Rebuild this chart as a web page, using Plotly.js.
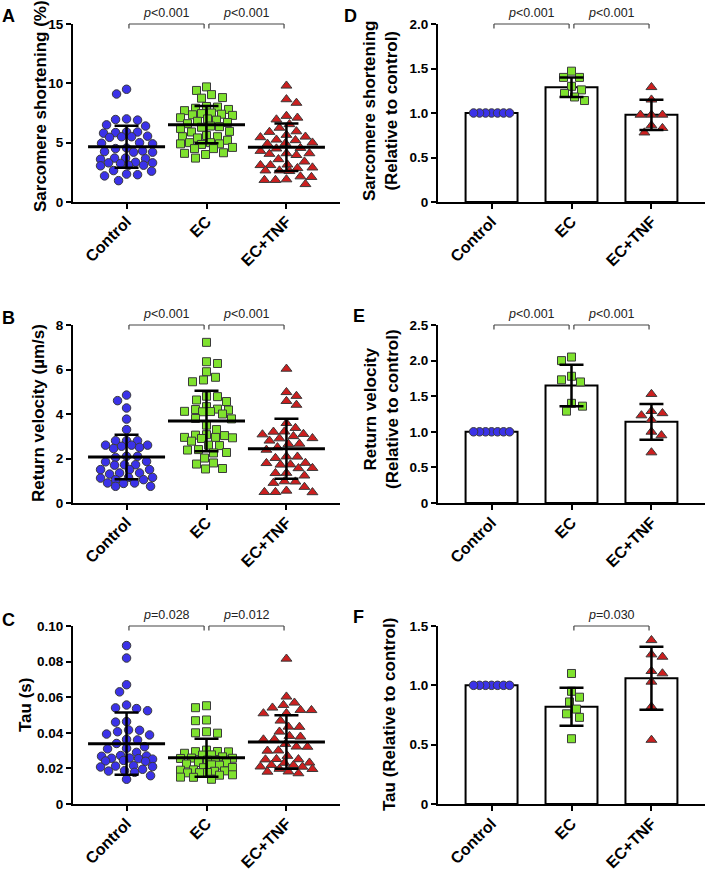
<!DOCTYPE html>
<html>
<head>
<meta charset="utf-8">
<script src="https://cdn.plot.ly/plotly-3.0.1.min.js"></script>
<style>
  body { margin: 0; background: #fff; }
  #fig { width: 707px; height: 872px; }
</style>
</head>
<body>
<div id="fig"></div>
<script>
var groups = ['Control', 'EC', 'EC+TNF'];

// A: sarcomere shortening (%)
var shortCtl = [9.5, 9.1, 7.0, 6.9, 6.95, 6.5, 6.4, 5.9, 5.85, 5.8, 5.9, 5.5, 5.55, 5.45, 5.5, 5.0, 4.95, 4.9, 4.5, 4.55, 4.25, 4.2, 4.3, 4.2, 3.7, 3.65, 3.7, 3.6, 3.3, 3.35, 3.25, 3.3, 3.1, 3.05, 3.1, 2.65, 2.6, 2.35, 2.3, 2.2, 1.8];
var shortEC = [9.7, 9.4, 9.05, 8.8, 8.75, 8.0, 7.9, 7.8, 8.05, 7.7, 7.4, 7.5, 7.3, 7.45, 7.35, 7.0, 6.9, 6.8, 7.1, 6.6, 6.7, 6.4, 6.3, 6.35, 6.2, 5.9, 5.95, 5.6, 5.5, 5.4, 5.5, 5.2, 5.0, 4.9, 4.85, 5.0, 4.9, 4.6, 4.5, 4.5, 4.15, 4.1, 4.0, 3.7];
var shortTNF = [9.8, 8.65, 8.35, 7.25, 7.1, 6.95, 6.55, 6.25, 5.95, 5.9, 5.65, 5.5, 5.45, 5.2, 5.25, 4.95, 4.9, 5.0, 4.5, 4.55, 4.3, 4.1, 4.1, 4.05, 3.95, 3.6, 3.4, 3.1, 3.15, 3.1, 2.9, 2.85, 2.65, 2.6, 2.65, 2.15, 2.1, 1.85, 1.85, 1.9, 1.5];
var shortMean = [4.66, 6.52, 4.62];
var shortSD = [1.77, 1.57, 2.0];

// B: return velocity (µm/s)
var velCtl = [4.85, 4.6, 4.27, 3.77, 3.3, 2.8, 2.8, 2.8, 2.6, 2.6, 2.6, 2.55, 2.45, 2.5, 2.1, 2.1, 2.05, 1.87, 1.85, 1.72, 1.72, 1.7, 1.5, 1.5, 1.5, 1.35, 1.35, 1.3, 1.15, 1.15, 1.12, 1.05, 1.05, 0.9, 0.9, 0.88, 0.75, 0.75];
var velEC = [7.22, 6.35, 6.27, 5.9, 5.53, 5.45, 5.65, 4.78, 4.8, 4.63, 4.56, 4.33, 4.2, 4.22, 4.18, 4.11, 4.1, 4.12, 4.0, 3.8, 3.78, 3.5, 3.3, 3.05, 3.03, 3.07, 2.95, 2.95, 2.93, 2.9, 2.78, 2.58, 2.6, 2.4, 2.38, 2.25, 2.27, 2.02, 1.8, 1.75, 1.53, 1.55];
var velTNF = [6.03, 4.98, 4.81, 4.58, 4.41, 3.59, 3.37, 3.21, 3.2, 3.1, 3.08, 3.0, 2.91, 2.9, 2.8, 2.66, 2.65, 2.5, 2.39, 2.09, 2.08, 2.02, 1.79, 1.8, 1.72, 1.73, 1.57, 1.56, 1.35, 1.34, 1.23, 0.97, 0.96, 0.9, 0.72, 0.55, 0.49, 0.49, 0.48];
var velMean = [2.07, 3.69, 2.44];
var velSD = [1.0, 1.36, 1.35];

// C: tau (s)
var tauCtl = [0.089, 0.082, 0.067, 0.063, 0.0556, 0.054, 0.0536, 0.0524, 0.0463, 0.046, 0.0416, 0.0414, 0.0406, 0.0393, 0.0388, 0.0363, 0.036, 0.034, 0.0322, 0.0313, 0.031, 0.029, 0.0272, 0.027, 0.0268, 0.0257, 0.0255, 0.0258, 0.0252, 0.0242, 0.024, 0.0245, 0.0215, 0.0213, 0.021, 0.0208, 0.0195, 0.0187, 0.0185, 0.0178, 0.0159, 0.0139];
var tauEC = [0.0552, 0.0541, 0.0472, 0.0468, 0.0398, 0.04, 0.0406, 0.0303, 0.0295, 0.0294, 0.0293, 0.0285, 0.0275, 0.0276, 0.0265, 0.0258, 0.0257, 0.0256, 0.0247, 0.0246, 0.0232, 0.0233, 0.0225, 0.022, 0.0218, 0.0205, 0.0204, 0.0192, 0.019, 0.0186, 0.0184, 0.0177, 0.0176, 0.0175, 0.0164, 0.0162, 0.015, 0.0151, 0.0139];
var tauTNF = [0.0816, 0.0603, 0.0569, 0.0556, 0.0541, 0.0528, 0.0527, 0.0509, 0.051, 0.0468, 0.0434, 0.0433, 0.0406, 0.0382, 0.0378, 0.0363, 0.0362, 0.0337, 0.0322, 0.0321, 0.03, 0.0299, 0.027, 0.0251, 0.025, 0.0252, 0.0232, 0.0231, 0.0219, 0.0218, 0.021, 0.0209, 0.0197, 0.0196, 0.0182, 0.0181, 0.0172];
var tauMean = [0.0339, 0.026, 0.0348];
var tauSD = [0.0175, 0.0107, 0.015];

// D: relative sarcomere shortening
var relShortCtl = [1, 1, 1, 1, 1, 1, 1];
var relShortEC = [1.47, 1.40, 1.40, 1.30, 1.26, 1.22, 1.18, 1.14];
var relShortTNF = [1.29, 1.15, 0.98, 0.98, 0.98, 0.86, 0.83, 0.78];
var relShortMean = [1.0, 1.29, 0.98];
var relShortSD = [0, 0.11, 0.17];

// E: relative return velocity
var relVelCtl = [1, 1, 1, 1, 1, 1, 1];
var relVelEC = [2.05, 2.0, 1.78, 1.73, 1.70, 1.40, 1.36, 1.29];
var relVelTNF = [1.53, 1.29, 1.26, 1.23, 1.17, 1.0, 0.95, 0.71];
var relVelMean = [1.0, 1.65, 1.14];
var relVelSD = [0, 0.29, 0.25];

// F: relative tau
var relTauCtl = [1, 1, 1, 1, 1, 1, 1];
var relTauEC = [1.10, 0.95, 0.90, 0.86, 0.80, 0.76, 0.73, 0.55];
var relTauTNF = [1.38, 1.26, 1.24, 1.12, 1.10, 1.03, 0.82, 0.54];
var relTauMean = [1.0, 0.82, 1.06];
var relTauSD = [0, 0.16, 0.265];

var W = 707, H = 872;
var cols = [[73, 340], [438, 705]];
var rows = [[24, 202], [325, 503], [626, 804]];
var xRange = [-0.67, 2.67];
var FONT = 'Liberation Sans, Arial, sans-serif';

var colors = ['#3b32e8', '#7fe22e', '#cc1f1f'];
var symbols = ['circle', 'square', 'triangle-up'];
var sizes = [8.5, 8, 9.5];

var panels = [
    {letter: 'A', letterXY: [8.5, 16.5], col: 0, row: 0, kind: 'dot',
     pts: [shortCtl, shortEC, shortTNF], mean: shortMean, sd: shortSD,
     ymax: 15, tickvals: [0, 5, 10, 15], ticktext: ['0', '5', '10', '15'],
     title: 'Sarcomere shortening (%)', titleXY: [40, 106], pv: [[0, '&lt;0.001'], [1, '&lt;0.001']]},
    {letter: 'D', letterXY: [350, 15.5], col: 1, row: 0, kind: 'bar',
     pts: [relShortCtl, relShortEC, relShortTNF], mean: relShortMean, sd: relShortSD,
     ymax: 2, tickvals: [0, 0.5, 1, 1.5, 2], ticktext: ['0', '0.5', '1.0', '1.5', '2.0'],
     title: 'Sarcomere shortening<br>(Relative to control)', titleXY: [381, 111], pv: [[0, '&lt;0.001'], [1, '&lt;0.001']]},
    {letter: 'B', letterXY: [8, 317.5], col: 0, row: 1, kind: 'dot',
     pts: [velCtl, velEC, velTNF], mean: velMean, sd: velSD,
     ymax: 8, tickvals: [0, 2, 4, 6, 8], ticktext: ['0', '2', '4', '6', '8'],
     title: 'Return velocity (µm/s)', titleXY: [38, 413], pv: [[0, '&lt;0.001'], [1, '&lt;0.001']]},
    {letter: 'E', letterXY: [359, 316], col: 1, row: 1, kind: 'bar',
     pts: [relVelCtl, relVelEC, relVelTNF], mean: relVelMean, sd: relVelSD,
     ymax: 2.5, tickvals: [0, 0.5, 1, 1.5, 2, 2.5], ticktext: ['0', '0.5', '1.0', '1.5', '2.0', '2.5'],
     title: 'Return velocity<br>(Relative to control)', titleXY: [381, 409], pv: [[0, '&lt;0.001'], [1, '&lt;0.001']]},
    {letter: 'C', letterXY: [8, 620], col: 0, row: 2, kind: 'dot',
     pts: [tauCtl, tauEC, tauTNF], mean: tauMean, sd: tauSD,
     ymax: 0.1, tickvals: [0, 0.02, 0.04, 0.06, 0.08, 0.1], ticktext: ['0', '0.02', '0.04', '0.06', '0.08', '0.10'],
     title: 'Tau (s)', titleXY: [25, 705], pv: [[0, '=0.028'], [1, '=0.012']]},
    {letter: 'F', letterXY: [358, 617], col: 1, row: 2, kind: 'bar',
     pts: [relTauCtl, relTauEC, relTauTNF], mean: relTauMean, sd: relTauSD,
     ymax: 1.5, tickvals: [0, 0.5, 1, 1.5], ticktext: ['0', '0.5', '1.0', '1.5'],
     title: 'Tau (Relative to control)', titleXY: [389, 715], pv: [[1, '=0.030']]}
];

// simple beeswarm: returns horizontal offsets in px
function swarm(vals, yPx, sx, sy, maxOff) {
    var order = vals.map(function (v, i) { return i; });
    order.sort(function (a, b) { return vals[b] - vals[a]; });
    var placed = [];
    var out = new Array(vals.length);
    order.forEach(function (i) {
        var y = vals[i] * yPx;
        var sign = placed.length % 2 ? -1 : 1;
        var best = 0, bestScore = -1, done = false;
        for (var k = 0; k <= maxOff && !done; k++) {
            var cands = k === 0 ? [0] : [sign * k, -sign * k];
            for (var c = 0; c < cands.length; c++) {
                var score = Infinity;
                placed.forEach(function (p) {
                    var dx = (p.x - cands[c]) / sx, dy = (p.y - y) / sy;
                    score = Math.min(score, dx * dx + dy * dy);
                });
                if (score >= 1) { best = cands[c]; done = true; break; }
                if (score > bestScore) { bestScore = score; best = cands[c]; }
            }
        }
        placed.push({x: best, y: y});
        out[i] = best;
    });
    return out;
}

function domX(pos) {
    return (pos - xRange[0]) / (xRange[1] - xRange[0]);
}

var data = [];
var layout = {
    width: W, height: H,
    margin: {l: 0, r: 0, t: 0, b: 0},
    paper_bgcolor: '#fff', plot_bgcolor: '#fff',
    showlegend: false,
    font: {family: FONT, color: '#000'},
    shapes: [], annotations: []
};

panels.forEach(function (p, n) {
    var s = n === 0 ? '' : String(n + 1);
    var xa = 'x' + s, ya = 'y' + s;
    var c = cols[p.col], r = rows[p.row];
    var pxPerX = (c[1] - c[0]) / (xRange[1] - xRange[0]);
    var pxPerY = (r[1] - r[0]) / p.ymax;

    layout['xaxis' + s] = {
        domain: [c[0] / W, c[1] / W], range: xRange, anchor: ya,
        tickvals: [0, 1, 2], ticktext: groups, tickangle: -45, ticklabelstandoff: -3,
        showline: true, linewidth: 2, linecolor: '#000',
        ticks: 'outside', ticklen: 5, tickwidth: 2, tickcolor: '#000',
        tickfont: {family: FONT, size: 16, weight: 'bold', color: '#000'},
        showgrid: false, zeroline: false, fixedrange: true, automargin: false
    };
    layout['yaxis' + s] = {
        domain: [1 - r[1] / H, 1 - r[0] / H], range: [0, p.ymax], anchor: xa,
        tickvals: p.tickvals, ticktext: p.ticktext,
        showline: true, linewidth: 2, linecolor: '#000',
        ticks: 'outside', ticklen: 5, tickwidth: 2, tickcolor: '#000',
        tickfont: {family: FONT, size: 13.5, weight: 'bold', color: '#000'},
        showgrid: false, zeroline: false, fixedrange: true, automargin: false
    };

    if (p.kind === 'bar') {
        data.push({
            type: 'bar', x: [0, 1, 2], y: p.mean, width: 0.65, xaxis: xa, yaxis: ya,
            marker: {color: '#fff', line: {color: '#000', width: 2}},
            hoverinfo: 'skip'
        });
    }

    p.pts.forEach(function (vals, g) {
        var sx = p.kind === 'bar' ? (g === 0 ? 5.3 : 11) : 11;
        var maxOff = p.kind === 'bar' ? 24 : 26;
        var off = swarm(vals, pxPerY, sx, 8.5, maxOff);
        data.push({
            type: 'scatter', mode: 'markers', xaxis: xa, yaxis: ya,
            x: off.map(function (o) { return g + o / pxPerX; }),
            y: vals,
            marker: {symbol: symbols[g], size: sizes[g], color: colors[g],
                     line: {color: '#3a3a3a', width: 1}},
            cliponaxis: false, hoverinfo: 'skip'
        });
    });

    // mean +/- SD
    var ex = [], ey = [], es = [];
    p.mean.forEach(function (m, g) {
        if (p.kind === 'dot' || p.sd[g] > 0) { ex.push(g); ey.push(m); es.push(p.sd[g]); }
    });
    data.push({
        type: 'scatter', mode: 'markers', xaxis: xa, yaxis: ya,
        x: ex, y: ey,
        error_y: {type: 'data', array: es, visible: true, color: '#000', thickness: 2.5, width: 12},
        marker: p.kind === 'dot'
            ? {symbol: 'line-ew', size: 55, color: '#000', line: {color: '#000', width: 3}}
            : {size: 1, color: 'rgba(0,0,0,0)'},
        cliponaxis: false, hoverinfo: 'skip'
    });

    // significance brackets
    var tickDrop = 1 - 4.5 / (r[1] - r[0]);
    p.pv.forEach(function (pv) {
        var a = domX(pv[0] + 0.03), b = domX(pv[0] + 1 - 0.03);
        var ln = {color: '#444', width: 1.2};
        var base = {type: 'line', xref: xa + ' domain', yref: ya + ' domain', line: ln};
        layout.shapes.push(Object.assign({}, base, {x0: a, x1: b, y0: 1, y1: 1}));
        layout.shapes.push(Object.assign({}, base, {x0: a, x1: a, y0: 1, y1: tickDrop}));
        layout.shapes.push(Object.assign({}, base, {x0: b, x1: b, y0: 1, y1: tickDrop}));
        layout.annotations.push({
            xref: xa + ' domain', yref: ya + ' domain', x: domX(pv[0] + 0.5), y: 1,
            xanchor: 'center', yanchor: 'middle', yshift: 11, showarrow: false,
            text: '<i>p</i>' + pv[1],
            font: {family: FONT, size: 12.5, color: '#222'}
        });
    });

    // axis title
    layout.annotations.push({
        xref: 'paper', yref: 'paper', x: p.titleXY[0] / W, y: 1 - p.titleXY[1] / H,
        xanchor: 'center', yanchor: 'middle', textangle: -90, showarrow: false,
        text: p.title, align: 'center',
        font: {family: FONT, size: 17, weight: 'bold', color: '#000'}
    });

    // panel letter
    layout.annotations.push({
        xref: 'paper', yref: 'paper', x: p.letterXY[0] / W, y: 1 - p.letterXY[1] / H,
        xanchor: 'center', yanchor: 'middle', showarrow: false,
        text: p.letter,
        font: {family: FONT, size: 18, weight: 'bold', color: '#000'}
    });
});

Plotly.newPlot('fig', data, layout, {staticPlot: true, displayModeBar: false});
</script>
</body>
</html>
